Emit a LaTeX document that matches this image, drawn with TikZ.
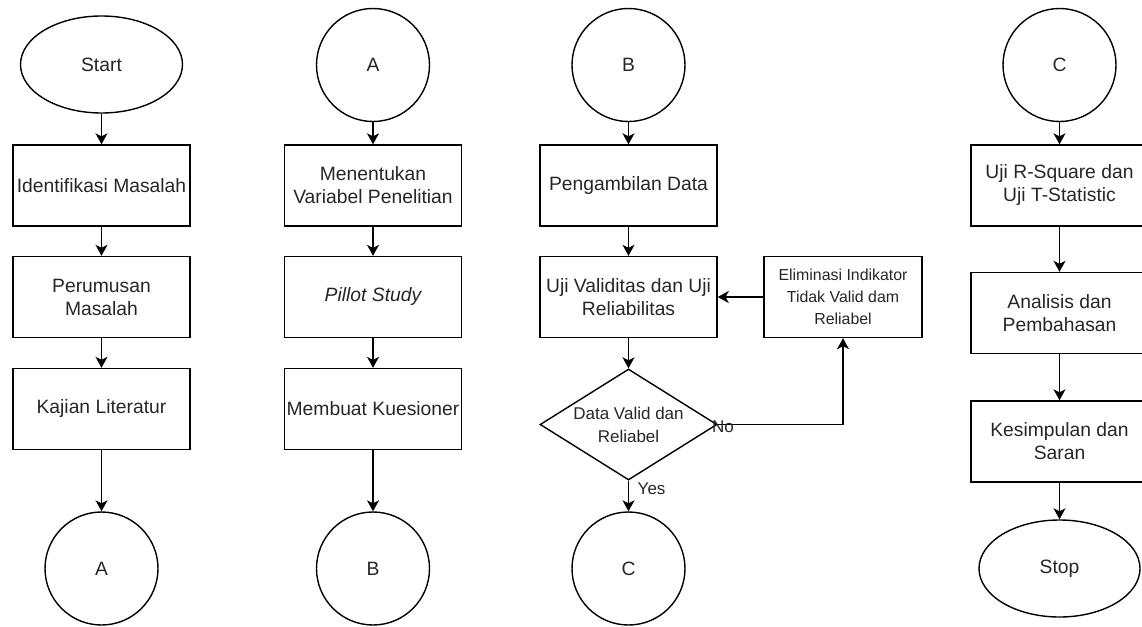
\documentclass[tikz,border=0pt]{standalone}
\usepackage{fontspec}
\setmainfont{Liberation Sans}
\usetikzlibrary{shapes.geometric,arrows.meta}
\begin{document}
\begin{tikzpicture}[x=1pt,y=-1pt,line width=1.4pt,
  every node/.style={font=\fontsize{19.3}{23}\selectfont, text=black!85},
  proc/.style={draw, rectangle, minimum width=177pt, minimum height=81pt, align=center, inner sep=0pt},
  conn/.style={draw, circle, minimum size=113pt, inner sep=0pt},
  term/.style={draw, ellipse, minimum width=162pt, minimum height=97pt, inner sep=0pt},
  dec/.style={draw, diamond, minimum width=177pt, minimum height=111pt, inner sep=0pt, aspect=1.6, align=center, font=\fontsize{17}{23}\selectfont},
  small/.style={draw, rectangle, minimum width=158pt, minimum height=81pt, align=center, inner sep=0pt, font=\fontsize{15.9}{22}\selectfont},
  lbl/.style={font=\fontsize{17}{20}\selectfont, inner sep=0pt},
  arr/.style={draw, -{Stealth[length=11pt,width=12pt,inset=3pt]}},
]
\useasboundingbox (0,0) rectangle (1142,626);
% column 1
\node[term] (start) at (101.5,64.5) {Start};
\node[proc] (c1a) at (101.5,185.5) {Identifikasi Masalah};
\node[proc] (c1b) at (101.5,297) {Perumusan\\Masalah};
\node[proc] (c1c) at (101.5,409) {Kajian Literatur};
\node[conn] (A1) at (101.5,568.5) {A};
\path[arr] (start) -- (c1a);
\path[arr] (c1a) -- (c1b);
\path[arr] (c1b) -- (c1c);
\path[arr] (c1c) -- (A1);
% column 2
\node[conn] (A2) at (373,65) {A};
\node[proc] (c2a) at (373,185.5) {Menentukan\\Variabel Penelitian};
\node[proc] (c2b) at (373,297) {\itshape Pillot Study};
\node[proc] (c2c) at (373,409) {Membuat Kuesioner};
\node[conn] (B1) at (373,568.5) {B};
\path[arr] (A2) -- (c2a);
\path[arr] (c2a) -- (c2b);
\path[arr] (c2b) -- (c2c);
\path[arr] (c2c) -- (B1);
% column 3
\node[conn] (B2) at (628.5,65) {B};
\node[proc] (c3a) at (628.5,185.5) {Pengambilan Data};
\node[proc] (c3b) at (628.5,297) {Uji Validitas dan Uji\\Reliabilitas};
\node[dec] (dia) at (628.5,424.5) {Data Valid dan\\Reliabel};
\node[conn] (C1) at (628.5,568.5) {C};
\node[small] (elim) at (843,297) {Eliminasi Indikator\\Tidak Valid dam\\Reliabel};
\path[arr] (B2) -- (c3a);
\path[arr] (c3a) -- (c3b);
\path[arr] (c3b) -- (dia);
\path[arr] (dia) -- (C1);
\path[arr] (dia.east) -| (elim.south);
\path[arr] (elim.west) -- (c3b.east);
\node[lbl] (no) at (723,427) {No};
\node[lbl, anchor=west] (yes) at (637,489) {Yes};
% column 4
\node[conn] (C2) at (1059.5,65) {C};
\node[proc] (c4a) at (1059.5,185.5) {Uji R-Square dan\\Uji T-Statistic};
\node[proc] (c4b) at (1059.5,313) {Analisis dan\\Pembahasan};
\node[proc] (c4c) at (1059.5,441.5) {Kesimpulan dan\\Saran};
\node[term, minimum width=161pt] (stop) at (1059.5,568.5) {Stop};
\path[arr] (C2) -- (c4a);
\path[arr] (c4a) -- (c4b);
\path[arr] (c4b) -- (c4c);
\path[arr] (c4c) -- (stop);
\end{tikzpicture}
\end{document}
